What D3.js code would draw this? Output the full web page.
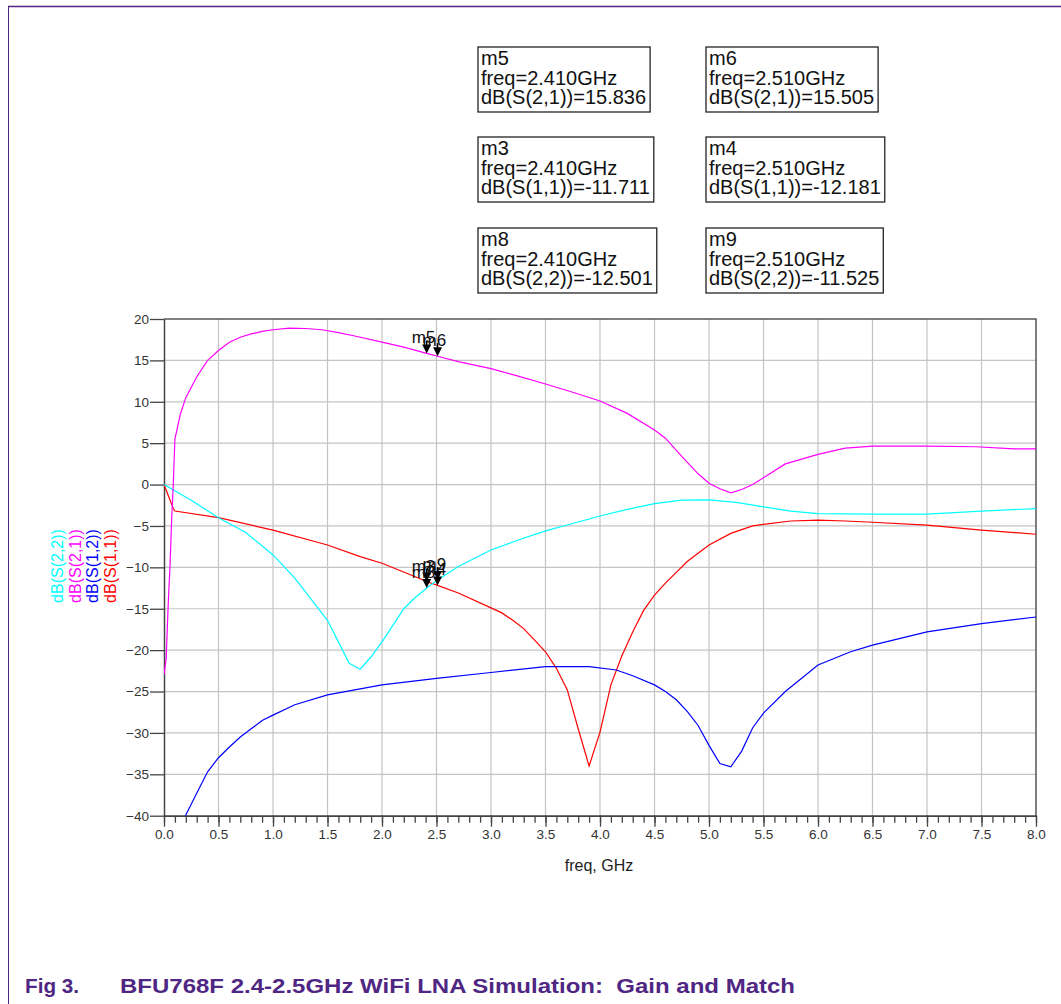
<!DOCTYPE html>
<html>
<head>
<meta charset="utf-8">
<script src="https://cdn.jsdelivr.net/npm/d3@7"></script>
<style>
  body { margin: 0; background: #fff; }
  svg { display: block; }
</style>
</head>
<body>
<script>
// ---- data ----
var s11Freq = [0, 0.085, 0.1, 0.5, 1.0, 1.5, 1.8, 2.0, 2.3, 2.41, 2.51, 2.7, 3.0, 3.1, 3.2, 3.3, 3.4, 3.5, 3.6, 3.7, 3.8, 3.9, 4.0, 4.1, 4.2, 4.3, 4.4, 4.5, 4.6, 4.7, 4.8, 5.0, 5.2, 5.4, 5.5, 5.75, 6.0, 6.25, 6.5, 7.0, 7.5, 8.0];
var s11dB   = [0, -2.9, -3.2, -4.0, -5.5, -7.3, -8.7, -9.5, -11.1, -11.71, -12.18, -13.1, -14.9, -15.5, -16.4, -17.4, -18.8, -20.2, -22.2, -24.8, -29.5, -34.0, -29.9, -24.2, -20.7, -17.8, -15.2, -13.35, -11.9, -10.6, -9.3, -7.3, -5.9, -5.0, -4.8, -4.4, -4.3, -4.4, -4.55, -4.9, -5.5, -6.0];

var s12Freq = [0.1, 0.2, 0.3, 0.4, 0.5, 0.6, 0.7, 0.8, 0.9, 1.0, 1.2, 1.5, 1.75, 2.0, 2.5, 3.0, 3.5, 3.9, 4.15, 4.3, 4.5, 4.6, 4.7, 4.8, 4.9, 5.0, 5.1, 5.2, 5.3, 5.4, 5.5, 5.7, 6.0, 6.3, 6.5, 7.0, 7.5, 8.0];
var s12dB   = [-46, -39.9, -37.3, -34.7, -33.0, -31.7, -30.5, -29.5, -28.5, -27.85, -26.6, -25.4, -24.8, -24.2, -23.4, -22.7, -22.0, -22.0, -22.4, -23.1, -24.2, -25.0, -26.0, -27.4, -29.1, -31.5, -33.7, -34.1, -32.2, -29.4, -27.6, -25.0, -21.8, -20.2, -19.4, -17.8, -16.8, -16.0];

var s21Freq = [0, 0.02, 0.04, 0.055, 0.07, 0.085, 0.1, 0.15, 0.2, 0.3, 0.4, 0.5, 0.6, 0.7, 0.8, 0.9, 1.0, 1.15, 1.3, 1.45, 1.6, 1.75, 2.0, 2.2, 2.41, 2.51, 2.7, 3.0, 3.25, 3.5, 3.75, 4.0, 4.25, 4.5, 4.6, 4.75, 4.9, 5.0, 5.1, 5.2, 5.3, 5.4, 5.5, 5.7, 6.0, 6.25, 6.5, 7.0, 7.45, 7.8, 8.0];
var s21dB   = [-23, -21, -14, -9.9, -4.3, 0, 5.5, 8.5, 10.5, 13, 15, 16.2, 17.2, 17.8, 18.2, 18.5, 18.7, 18.9, 18.85, 18.7, 18.35, 17.95, 17.2, 16.6, 15.84, 15.5, 14.85, 14.0, 13.1, 12.15, 11.15, 10.1, 8.6, 6.6, 5.6, 3.4, 1.3, 0.15, -0.5, -1.0, -0.6, 0, 0.83, 2.5, 3.65, 4.4, 4.65, 4.65, 4.57, 4.3, 4.3];

var s22Freq = [0, 0.25, 0.5, 0.75, 1.0, 1.2, 1.3, 1.4, 1.5, 1.6, 1.7, 1.8, 1.9, 2.0, 2.1, 2.2, 2.3, 2.41, 2.51, 2.7, 3.0, 3.25, 3.5, 3.75, 4.0, 4.25, 4.5, 4.75, 5.0, 5.25, 5.5, 5.75, 6.0, 6.5, 7.0, 7.5, 8.0];
var s22dB   = [0, -1.9, -4.0, -5.8, -8.5, -11.3, -13.0, -14.7, -16.4, -19.0, -21.6, -22.3, -20.8, -19.0, -17.0, -15.0, -13.7, -12.5, -11.53, -9.9, -7.9, -6.7, -5.6, -4.7, -3.8, -3.0, -2.3, -1.87, -1.85, -2.15, -2.7, -3.2, -3.5, -3.56, -3.56, -3.2, -2.9];

var seriesNames  = ["dB(S(2,2))", "dB(S(2,1))", "dB(S(1,2))", "dB(S(1,1))"];
var seriesColors = ["#00ffff", "#ff00ff", "#0000ff", "#ff0000"];

var markerNames = ["m5", "m6", "m3", "m4", "m8", "m9"];
var markerFreq  = [2.410, 2.510, 2.410, 2.510, 2.410, 2.510];
var markerExpr  = ["dB(S(2,1))", "dB(S(2,1))", "dB(S(1,1))", "dB(S(1,1))", "dB(S(2,2))", "dB(S(2,2))"];
var markerValue = [15.836, 15.505, -11.711, -12.181, -12.501, -11.525];

var xTicks = d3.range(0, 8.01, 0.5);
var yTicks = d3.range(-40, 20.01, 5);

// ---- layout ----
var width = 1061, height = 1004;
var plotL = 164, plotR = 1036, plotT = 319, plotB = 815.7;
var font = "'Liberation Sans', Arial, sans-serif";

var svg = d3.select("body").append("svg")
    .attr("width", width)
    .attr("height", height);

// page frame (purple rule)
svg.append("line").attr("x1", 8).attr("x2", width).attr("y1", 6.5).attr("y2", 6.5)
    .attr("stroke", "#4f2683").attr("stroke-width", 1.6);
svg.append("line").attr("x1", 8.5).attr("x2", 8.5).attr("y1", 6).attr("y2", height)
    .attr("stroke", "#4f2683").attr("stroke-width", 1);

var x = d3.scaleLinear().domain([0, 8]).range([plotL, plotR]);
var y = d3.scaleLinear().domain([-40, 20]).range([plotB, plotT]);

// grid
svg.append("g").selectAll("line")
    .data(xTicks.filter(function(d){ return d > 0 && d < 8; }))
    .enter().append("line")
    .attr("x1", function(d){ return x(d); }).attr("x2", function(d){ return x(d); })
    .attr("y1", plotT).attr("y2", plotB)
    .attr("stroke", "#c4c4c4").attr("stroke-width", 1.2);
svg.append("g").selectAll("line")
    .data(yTicks.filter(function(d){ return d > -40 && d < 20; }))
    .enter().append("line")
    .attr("x1", plotL).attr("x2", plotR)
    .attr("y1", function(d){ return y(d); }).attr("y2", function(d){ return y(d); })
    .attr("stroke", "#c4c4c4").attr("stroke-width", 1.2);

// frame top + right
svg.append("path")
    .attr("d", "M" + plotL + "," + plotT + "H" + plotR + "V" + plotB)
    .attr("fill", "none").attr("stroke", "#555").attr("stroke-width", 1.5);

// axes
var xMinor = svg.append("g").attr("transform", "translate(0," + plotB + ")")
    .call(d3.axisBottom(x).tickValues(d3.range(0, 8.001, 0.1)).tickSize(7).tickSizeOuter(0).tickFormat(""));
var xAxis = svg.append("g").attr("transform", "translate(0," + plotB + ")")
    .call(d3.axisBottom(x).tickValues(xTicks).tickSize(11).tickSizeOuter(0).tickPadding(3).tickFormat(d3.format(".1f")));
var yAxis = svg.append("g").attr("transform", "translate(" + plotL + ",0)")
    .call(d3.axisLeft(y).tickValues(yTicks).tickSize(14).tickSizeOuter(0).tickPadding(1).tickFormat(d3.format("d")));

[xMinor, xAxis, yAxis].forEach(function(g){
  g.select(".domain").attr("stroke", "#444").attr("stroke-width", 1.5);
  g.selectAll(".tick line").attr("stroke", "#444").attr("stroke-width", 1.3);
  g.selectAll(".tick text").attr("fill", "#333")
    .style("font-family", font).style("font-size", "13.5px");
});

// curves
var defs = svg.append("defs");
defs.append("clipPath").attr("id", "plotClip").append("rect")
    .attr("x", plotL).attr("y", plotT).attr("width", plotR - plotL).attr("height", plotB - plotT);

var line = d3.line()
    .x(function(d){ return x(d[0]); })
    .y(function(d){ return y(d[1]); });

function pairs(f, v) { return f.map(function(d, i){ return [d, v[i]]; }); }

var curves = [
  { data: pairs(s11Freq, s11dB), color: seriesColors[3] },
  { data: pairs(s12Freq, s12dB), color: seriesColors[2] },
  { data: pairs(s22Freq, s22dB), color: seriesColors[0] },
  { data: pairs(s21Freq, s21dB), color: seriesColors[1] }
];

svg.append("g").attr("clip-path", "url(#plotClip)")
  .selectAll("path").data(curves).enter().append("path")
    .attr("d", function(d){ return line(d.data); })
    .attr("fill", "none")
    .attr("stroke", function(d){ return d.color; })
    .attr("stroke-width", 1.2);

// y label (stacked rotated series names)
var yLab = svg.append("g");
seriesNames.forEach(function(name, i){
  yLab.append("text")
    .attr("transform", "translate(" + (63 + i * 17.5) + ",566) rotate(-90)")
    .attr("text-anchor", "middle")
    .attr("fill", seriesColors[i])
    .style("font-family", font).style("font-size", "16px")
    .text(name);
});

// x label
svg.append("text")
    .attr("x", 599).attr("y", 871)
    .attr("text-anchor", "middle")
    .attr("fill", "#222")
    .style("font-family", font).style("font-size", "16px")
    .text("freq, GHz");

// markers on curves
var mk = svg.append("g");
markerNames.forEach(function(name, i){
  var px = x(markerFreq[i]), py = y(markerValue[i]);
  mk.append("line").attr("x1", px).attr("x2", px).attr("y1", py - 13).attr("y2", py - 7)
    .attr("stroke", "#000").attr("stroke-width", 1.6);
  mk.append("path")
    .attr("d", "M" + px + "," + py + "L" + (px - 4.5) + "," + (py - 9) + "L" + (px + 4.5) + "," + (py - 9) + "Z")
    .attr("fill", "#000");
  mk.append("text")
    .attr("x", px - 15).attr("y", py - 10)
    .attr("fill", "#111")
    .style("font-family", font).style("font-size", "17px")
    .text(name);
});

// marker readout boxes
var boxX = [478, 706], boxY = [47, 137, 228];
markerNames.forEach(function(name, i){
  var bx = boxX[i % 2], by = boxY[Math.floor(i / 2)];
  var g = svg.append("g");
  var rect = g.append("rect");
  var lines = [name, "freq=" + markerFreq[i].toFixed(3) + "GHz", markerExpr[i] + "=" + markerValue[i].toFixed(3)];
  var maxW = 0;
  lines.forEach(function(t, j){
    var tx = g.append("text")
      .attr("x", bx + 3).attr("y", by + 18 + j * 19.5)
      .attr("fill", "#111")
      .style("font-family", font).style("font-size", "20px")
      .text(t);
    maxW = Math.max(maxW, tx.node().getComputedTextLength());
  });
  rect.attr("x", bx).attr("y", by).attr("width", maxW + 7).attr("height", 65)
    .attr("fill", "#fff").attr("stroke", "#222").attr("stroke-width", 1.3);
});

// caption
var capFont = "'Liberation Sans Narrow', 'Arial Narrow', 'Liberation Sans', Arial, sans-serif";
svg.append("text")
    .attr("x", 25).attr("y", 993)
    .attr("textLength", 54).attr("lengthAdjust", "spacingAndGlyphs")
    .attr("fill", "#4f2683")
    .style("font-family", capFont).style("font-size", "21px").style("font-weight", "bold")
    .text("Fig 3.");
svg.append("text")
    .attr("x", 120).attr("y", 993)
    .attr("textLength", 675).attr("lengthAdjust", "spacingAndGlyphs")
    .attr("fill", "#4f2683")
    .style("font-family", capFont).style("font-size", "21px").style("font-weight", "bold")
    .style("white-space", "pre")
    .text("BFU768F 2.4-2.5GHz WiFi LNA Simulation:  Gain and Match");
</script>
</body>
</html>
